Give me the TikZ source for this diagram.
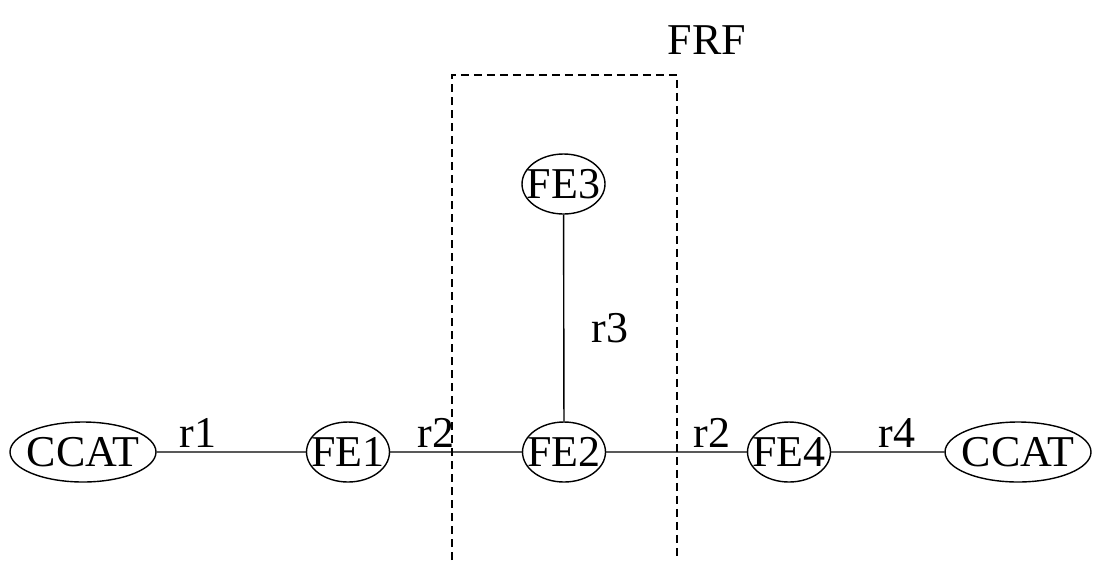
\documentclass[tikz,border=0pt]{standalone}
\usepackage{fontspec}
\setmainfont{Liberation Serif}
\usetikzlibrary{shapes.geometric}

\begin{document}
\begin{tikzpicture}[scale=0.17575]
\tikzstyle{every node}+=[inner sep=0pt]
\tikzstyle{fe}=[draw,line width=0.7pt,ellipse,inner xsep=-8pt,inner ysep=-3pt,minimum width=41.5pt,minimum height=30pt,font=\fontsize{22}{26}\selectfont]
\tikzstyle{ccat}=[fe,minimum width=73pt]
\tikzstyle{lbl}=[font=\fontsize{22}{26}\selectfont]
\useasboundingbox (0,0) rectangle (109.9,-56);
% FRF box, open at the bottom
\draw [black,line width=0.7pt,dash pattern=on 4pt off 2.5pt] (45.2,-56) -- (45.2,-7.5) -- (67.7,-7.5) -- (67.7,-56);
\node [lbl] (frf) at (70.7,-4) {FRF};
\node [ccat] (ccat1) at (8.3,-45.2) {CCAT};
\node [fe] (fe1) at (34.8,-45.2) {FE1};
\node [fe] (fe2) at (56.4,-45.2) {FE2};
\node [fe] (fe3) at (56.35,-18.4) {FE3};
\node [fe] (fe4) at (78.9,-45.2) {FE4};
\node [ccat] (ccat2) at (101.8,-45.2) {CCAT};
\draw [black,line width=0.7pt] (ccat1) -- (fe1);
\draw [black,line width=0.7pt] (fe1) -- (fe2);
\draw [black,line width=0.7pt] (fe2) -- (fe4);
\draw [black,line width=0.7pt] (fe4) -- (ccat2);
\draw [black,line width=0.7pt] (fe3) -- (fe2);
\node [lbl] (r1) at (19.8,-43.3) {r1};
\node [lbl] (r2a) at (43.6,-43.3) {r2};
\node [lbl] (r2b) at (71.2,-43.3) {r2};
\node [lbl] (r4) at (89.7,-43.3) {r4};
\node [lbl] (r3) at (61,-32.8) {r3};
\end{tikzpicture}
\end{document}
